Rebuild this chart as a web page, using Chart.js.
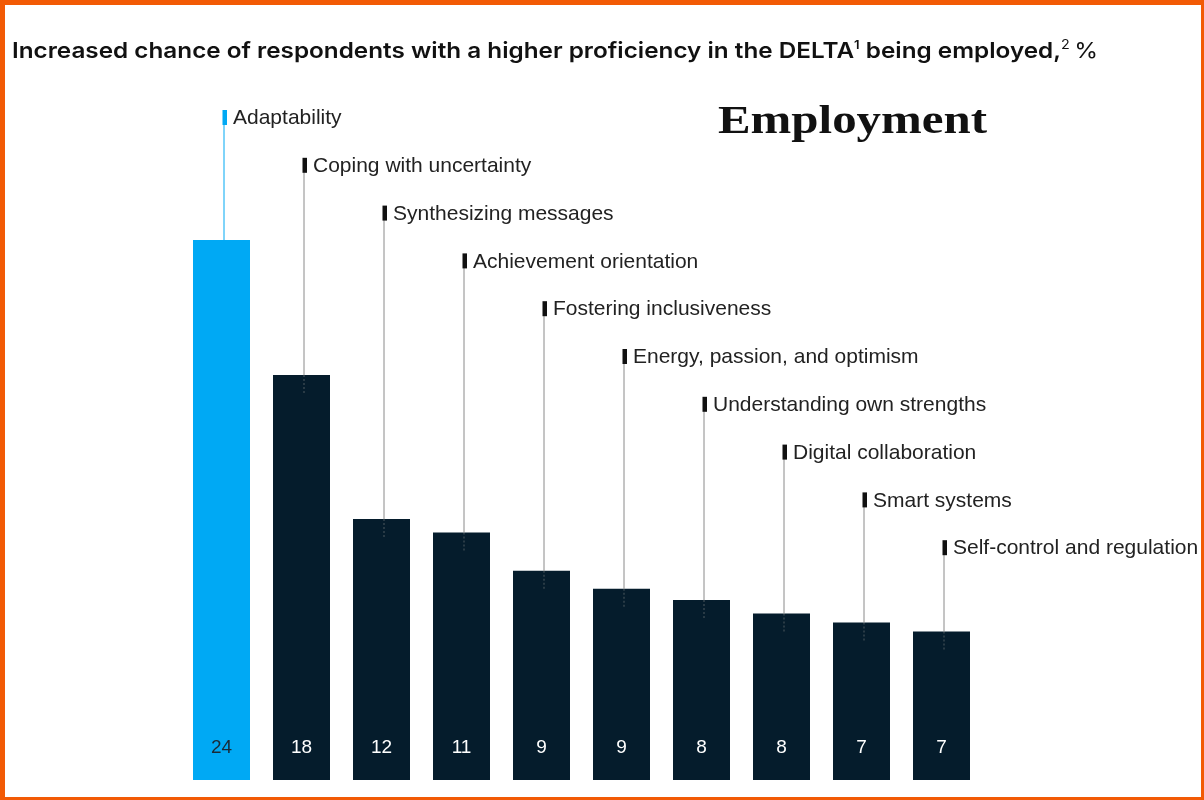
<!DOCTYPE html>
<html>
<head>
<meta charset="utf-8">
<script src="https://cdn.jsdelivr.net/npm/chart.js@4.4.1/dist/chart.umd.min.js"></script>
<style>
  html, body { margin: 0; padding: 0; background: #fff; }
  #wrap { width: 1204px; height: 800px; position: relative; }
</style>
</head>
<body>
<div id="wrap"><canvas id="deltaChart" width="1204" height="800"></canvas></div>
<script>
// skills ranked by increased chance of being employed, %
var skills = [
    'Adaptability',
    'Coping with uncertainty',
    'Synthesizing messages',
    'Achievement orientation',
    'Fostering inclusiveness',
    'Energy, passion, and optimism',
    'Understanding own strengths',
    'Digital collaboration',
    'Smart systems',
    'Self-control and regulation'
];
// bar heights
var values = [24, 18, 11.6, 11.0, 9.3, 8.5, 8.0, 7.4, 7.0, 6.6];
// numbers printed in the bars
var shownValues = [24, 18, 12, 11, 9, 9, 8, 8, 7, 7];

var BLUE = '#00a9f4';
var NAVY = '#051c2c';
var ORANGE = '#f25a05';

var ctx = document.getElementById('deltaChart').getContext('2d');

// draw text stretched to a given width
function fitText(c, text, x, y, width) {
    var w = c.measureText(text).width;
    c.save();
    c.translate(x, y);
    c.scale(width / w, 1);
    c.fillText(text, 0, 0);
    c.restore();
}

var decorPlugin = {
    id: 'decor',
    afterDatasetsDraw: function (chart) {
        var c = chart.ctx;
        var area = chart.chartArea;
        var meta = chart.getDatasetMeta(0);
        var yScale = chart.scales.y;
        c.save();

        // leader lines + labels
        var step = 47.8;
        meta.data.forEach(function (bar, i) {
            var lx = bar.x + 2.5;
            var ly = area.top + 12.5 + i * step;
            var top = yScale.getPixelForValue(values[i]);
            c.strokeStyle = i === 0 ? BLUE : '#8a8a8a';
            c.lineWidth = 1;
            c.beginPath();
            c.moveTo(lx, ly + 7);
            c.lineTo(lx, top);
            c.stroke();
            if (i > 0) {
                c.strokeStyle = 'rgba(140,140,140,0.55)';
                c.setLineDash([2, 2]);
                c.beginPath();
                c.moveTo(lx, top);
                c.lineTo(lx, top + 18);
                c.stroke();
                c.setLineDash([]);
            }
            c.fillStyle = i === 0 ? BLUE : '#111';
            c.fillRect(lx - 1.5, ly - 7.5, 4.5, 15);
            c.fillStyle = '#222';
            c.font = '21px "Liberation Sans", Arial, sans-serif';
            c.textAlign = 'left';
            c.textBaseline = 'middle';
            c.fillText(skills[i], lx + 9, ly + 1);

            // value inside bar
            c.fillStyle = i === 0 ? '#1a2a36' : '#ffffff';
            c.font = '19px "Liberation Sans", Arial, sans-serif';
            c.textAlign = 'center';
            c.fillText(String(shownValues[i]), bar.x, area.bottom - 32);
        });

        // title with superscripts, stretched to the reference width
        c.textAlign = 'left';
        c.textBaseline = 'alphabetic';
        c.fillStyle = '#111';
        var parts = [
            ['600 22px Inter, "Liberation Sans", sans-serif', 'Increased chance of respondents with a higher proficiency in the DELTA', 0],
            ['600 12px Inter, "Liberation Sans", sans-serif', '1', -9],
            ['600 22px Inter, "Liberation Sans", sans-serif', ' being employed,', 0],
            ['400 13px Inter, "Liberation Sans", sans-serif', '2', -9],
            ['400 22px Inter, "Liberation Sans", sans-serif', '\u2009%', 0]
        ];
        var total = 0;
        parts.forEach(function (p) { c.font = p[0]; total += c.measureText(p[1]).width; });
        var sx = 1086 / total;
        c.save();
        c.translate(12, 58);
        c.scale(sx, 1);
        var x = 0;
        parts.forEach(function (p) {
            c.font = p[0];
            c.fillText(p[1], x, p[2]);
            x += c.measureText(p[1]).width;
        });
        c.restore();

        // big serif heading
        c.font = 'bold 41px "Liberation Serif", "Times New Roman", serif';
        c.fillStyle = '#111';
        fitText(c, 'Employment', 718, 133, 269);

        // orange frame
        c.fillStyle = ORANGE;
        c.fillRect(0, 0, 1204, 5);
        c.fillRect(0, 0, 5, 800);
        c.fillRect(1201, 0, 3, 800);
        c.fillRect(0, 797, 1204, 3);
        c.restore();
    }
};

var chart = new Chart(ctx, {
    type: 'bar',
    data: {
        labels: skills,
        datasets: [{
            data: values,
            backgroundColor: values.map(function (v, i) { return i === 0 ? BLUE : NAVY; }),
            borderWidth: 0,
            barPercentage: 0.7125,
            categoryPercentage: 1.0
        }]
    },
    options: {
        responsive: false,
        animation: false,
        layout: {
            padding: { left: 181.5, right: 222.5, top: 105, bottom: 20 }
        },
        scales: {
            x: { display: false },
            y: { display: false, min: 0, max: 30 }
        },
        plugins: {
            legend: { display: false },
            tooltip: { enabled: false }
        }
    },
    plugins: [decorPlugin]
});
</script>
</body>
</html>
